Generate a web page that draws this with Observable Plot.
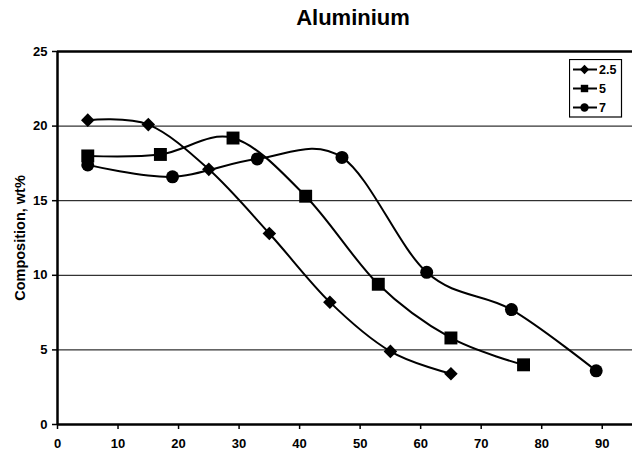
<!DOCTYPE html>
<html>
<head>
<meta charset="utf-8">
<script src="https://cdn.jsdelivr.net/npm/d3@7"></script>
<script src="https://cdn.jsdelivr.net/npm/@observablehq/plot@0.6"></script>
<style>
  html, body { margin: 0; padding: 0; background: #fff; }
  #wrap { position: relative; width: 632px; height: 455px; overflow: hidden; font-family: "Liberation Sans", Arial, sans-serif; }
  #title { position: absolute; left: 0; top: 7px; width: 632px; padding-left: 74px; box-sizing: border-box; text-align: center; font-weight: bold; font-size: 22px; line-height: 22px; color: #000; }
  #legend { position: absolute; left: 569px; top: 59px; }
</style>
</head>
<body>
<div id="wrap">
  <div id="chart"></div>
  <div id="title">Aluminium</div>
  <div id="legend"></div>
</div>
<script>
// ---- data ----
const seriesNames = ["2.5", "5", "7"];
const x25 = [5, 15, 25, 35, 45, 55, 65];
const y25 = [20.4, 20.1, 17.1, 12.8, 8.2, 4.9, 3.4];
const x5 = [5, 17, 29, 41, 53, 65, 77];
const y5 = [18.0, 18.1, 19.2, 15.3, 9.4, 5.8, 4.0];
const x7 = [5, 19, 33, 47, 61, 75, 89];
const y7 = [17.4, 16.6, 17.8, 17.9, 10.2, 7.7, 3.6];
const xTicks = [0, 10, 20, 30, 40, 50, 60, 70, 80, 90];
const yTicks = [0, 5, 10, 15, 20, 25];
const gridValues = [5, 10, 15, 20];
const titleText = "Aluminium";
const yLabel = "Composition, wt%";

const symbols = {"2.5": "diamond2", "5": "square", "7": "circle"};
const symbolR = {"2.5": 6.1, "5": 7.3, "7": 6.5};

const table = [];
[[x25, y25], [x5, y5], [x7, y7]].forEach(([xs, ys], i) => {
  xs.forEach((x, j) => table.push({series: seriesNames[i], x, y: ys[j]}));
});

const font = "'Liberation Sans', Arial, sans-serif";

const plot = Plot.plot({
  width: 632,
  height: 455,
  marginLeft: 57,
  marginRight: 0,
  marginTop: 51,
  marginBottom: 31,
  style: {fontFamily: font, fontWeight: "bold", fontSize: "13px", color: "#000", background: "#fff"},
  x: {domain: [0, 95]},
  y: {domain: [0, 25]},
  marks: [
    Plot.ruleY(gridValues, {stroke: "#000", strokeWidth: 1}),
    Plot.ruleY([25], {stroke: "#000", strokeWidth: 2.5}),
    Plot.axisX({ticks: xTicks, tickSize: 5, tickPadding: 9, tickFormat: d => d, label: null, stroke: "#000", strokeWidth: 1.5, fontSize: 13, fontWeight: "bold"}),
    Plot.axisY({ticks: yTicks, tickSize: 5, tickPadding: 5, tickFormat: d => d, label: null, stroke: "#000", strokeWidth: 1.5, fontSize: 13, fontWeight: "bold"}),
    Plot.text([yLabel], {frameAnchor: "left", dx: -37.5, rotate: -90, lineAnchor: "middle", textAnchor: "middle", fontSize: 14.5, fontWeight: "bold", fill: "#000"}),
    Plot.line(table, {x: "x", y: "y", z: "series", stroke: "#000", strokeWidth: 2, curve: "cardinal"}),
    ...seriesNames.map(s => Plot.dot(table.filter(d => d.series === s), {x: "x", y: "y", symbol: symbols[s], r: symbolR[s], fill: "#000", stroke: "none"})),
    Plot.ruleY([0], {stroke: "#000", strokeWidth: 2.5}),
    Plot.ruleX([0], {stroke: "#000", strokeWidth: 2.5})
  ]
});
document.getElementById("chart").appendChild(plot);
document.getElementById("title").textContent = titleText;

// ---- legend ----
const lg = d3.select("#legend").append("svg").attr("width", 54).attr("height", 60)
  .style("font-family", font).style("font-weight", "bold").style("font-size", "12.5px");
lg.append("rect").attr("x", 0.5).attr("y", 0.5).attr("width", 52).attr("height", 57.5)
  .attr("fill", "#fff").attr("stroke", "#000").attr("stroke-width", 1.2);
const legendSym = {"2.5": d3.symbolDiamond2, "5": d3.symbolSquare, "7": d3.symbolCircle};
const legendSize = {"2.5": 55, "5": 55, "7": 55};
seriesNames.forEach((s, i) => {
  const cy = 10.5 + i * 19;
  lg.append("line").attr("x1", 4).attr("x2", 28).attr("y1", cy).attr("y2", cy).attr("stroke", "#000").attr("stroke-width", 2);
  lg.append("path").attr("d", d3.symbol(legendSym[s], legendSize[s])()).attr("transform", `translate(15.5,${cy})`).attr("fill", "#000");
  lg.append("text").attr("x", 30).attr("y", cy + 4.5).text(s).attr("fill", "#000");
});
</script>
</body>
</html>
